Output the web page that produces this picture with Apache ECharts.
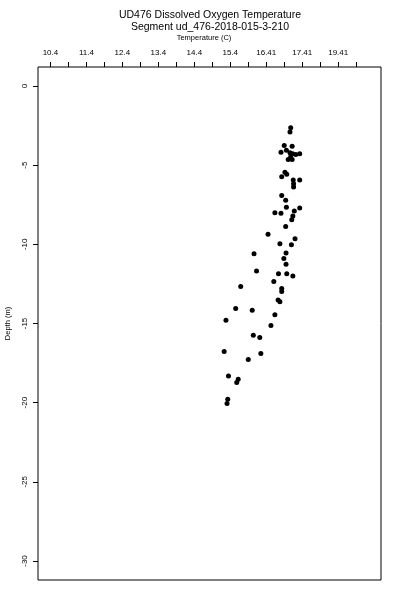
<!DOCTYPE html>
<html>
<head>
<meta charset="utf-8">
<script src="https://cdn.jsdelivr.net/npm/echarts@6/dist/echarts.min.js"></script>
<style>html,body{margin:0;padding:0;background:#fff}#c{width:400px;height:600px}</style>
</head>
<body>
<div id="c"></div>
<script>
const titleLine1 = "UD476 Dissolved Oxygen Temperature";
const titleLine2 = "Segment ud_476-2018-015-3-210";
const xAxisName = "Temperature (C)";
const yAxisName = "Depth (m)";

const temperature = [17.08,17.06,16.90,17.12,16.81,16.96,17.06,17.13,17.22,17.33,17.01,17.12,17.08,16.92,16.97,16.83,17.15,17.33,17.16,17.16,16.83,16.94,16.96,17.33,17.18,16.64,16.81,17.14,17.11,16.94,16.45,17.20,16.78,17.10,16.06,16.95,16.89,16.95,16.13,16.74,16.97,17.14,16.61,15.69,16.83,16.83,16.73,16.78,15.55,16.01,16.64,15.28,16.53,16.04,16.22,15.23,16.25,15.90,15.35,15.62,15.58,15.33,15.31];
const depth = [-2.64,-2.91,-3.75,-3.80,-4.18,-4.05,-4.21,-4.28,-4.32,-4.28,-4.64,-4.64,-4.47,-5.44,-5.58,-5.73,-5.94,-5.94,-6.17,-6.38,-6.91,-7.22,-7.65,-7.71,-7.90,-8.00,-8.04,-8.21,-8.44,-8.88,-9.37,-9.64,-9.96,-10.02,-10.59,-10.55,-10.90,-11.26,-11.68,-11.85,-11.85,-12.00,-12.35,-12.67,-12.79,-12.98,-13.51,-13.62,-14.06,-14.16,-14.44,-14.79,-15.13,-15.74,-15.89,-16.77,-16.90,-17.27,-18.31,-18.52,-18.73,-19.78,-20.05];

const xTickValues = [10.4,10.9,11.4,11.9,12.4,12.9,13.4,13.9,14.4,14.9,15.4,15.9,16.4,16.9,17.4,17.9,18.4,18.9];
const xLabelValues = [10.4,11.4,12.4,13.4,14.4,15.4,16.4,17.4,18.4];
const xLabelTexts = ["10.4","11.4","12.4","13.4","14.4","15.4","16.41","17.41","19.41"];
const yTickValues = [0,-5,-10,-15,-20,-25,-30];
const xRange = [10.055, 19.59];
const yRange = [-31.2, 1.2];

const points = temperature.map((t, i) => [t, depth[i]]);
const FONT = "Liberation Sans, Arial, Helvetica, sans-serif";

const chart = echarts.init(document.getElementById('c'), null, {renderer: 'canvas'});
chart.setOption({
  animation: false,
  backgroundColor: '#fff',
  title: [
    {text: titleLine1, left: 210, top: 10, textAlign: 'center', padding: 0,
     textStyle: {fontFamily: FONT, fontSize: 10.5, fontWeight: 'normal', color: '#000'}},
    {text: titleLine2, left: 210, top: 22, textAlign: 'center', padding: 0,
     textStyle: {fontFamily: FONT, fontSize: 10.5, fontWeight: 'normal', color: '#000'}}
  ],
  grid: {left: 38, right: 19, top: 67, bottom: 20, show: true, borderColor: '#000', borderWidth: 1,
    backgroundColor: 'transparent', containLabel: false, outerBoundsMode: 'none'},
  xAxis: {
    type: 'value', position: 'top', min: xRange[0], max: xRange[1],
    name: xAxisName, nameLocation: 'middle', nameGap: 25,
    nameTextStyle: {fontFamily: FONT, fontSize: 7.5, color: '#000', padding: [0, 11, 0, 0]},
    axisLine: {show: false, onZero: false},
    splitLine: {show: false},
    axisTick: {show: true, inside: false, length: 5, customValues: xTickValues, lineStyle: {color: '#000', width: 1}},
    axisLabel: {show: true, customValues: xLabelValues, margin: 10, fontFamily: FONT, fontSize: 8, color: '#000',
      formatter: function (v) {
        for (let i = 0; i < xLabelValues.length; i++) { if (Math.abs(xLabelValues[i] - v) < 1e-6) return xLabelTexts[i]; }
        return '';
      }}
  },
  yAxis: {
    type: 'value', min: yRange[0], max: yRange[1],
    name: yAxisName, nameLocation: 'middle', nameGap: 26, nameRotate: 90,
    nameTextStyle: {fontFamily: FONT, fontSize: 7.5, color: '#000'},
    axisLine: {show: false, onZero: false},
    splitLine: {show: false},
    axisTick: {show: true, inside: false, length: 5, customValues: yTickValues, lineStyle: {color: '#000', width: 1}},
    axisLabel: {show: true, customValues: yTickValues, rotate: 90, margin: 9, fontFamily: FONT, fontSize: 8, color: '#000',
      formatter: function (v) { return String(Math.round(v)); }}
  },
  series: [{
    type: 'scatter', data: points, symbol: 'circle', symbolSize: 5,
    itemStyle: {color: '#000', opacity: 1}
  }]
});
</script>
</body>
</html>
